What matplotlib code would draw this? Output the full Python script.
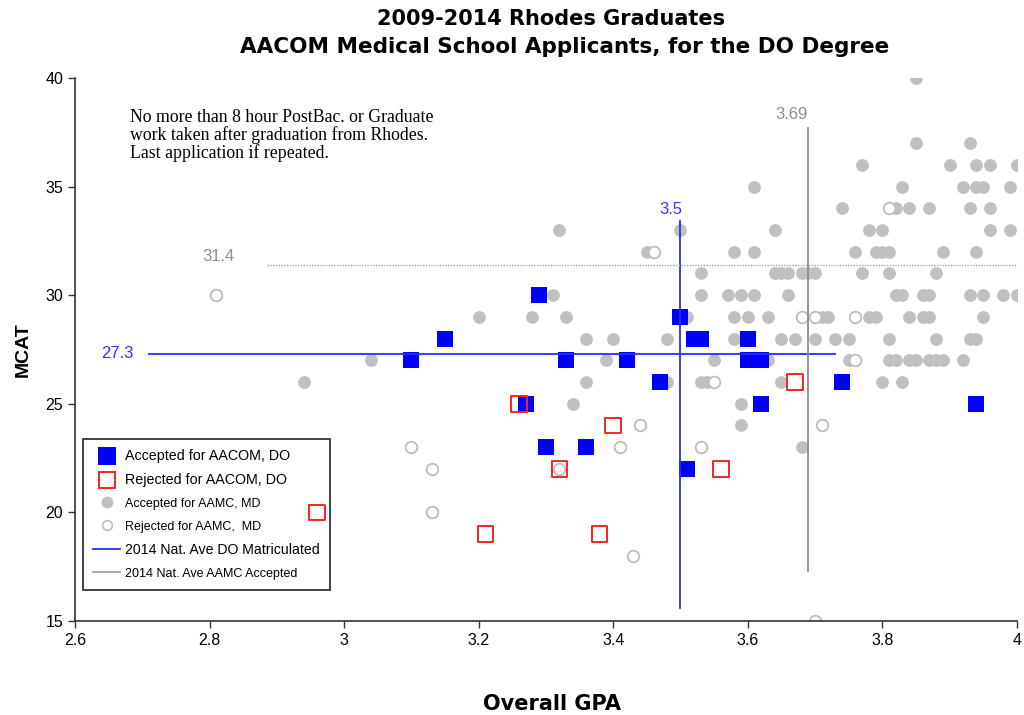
import matplotlib
matplotlib.use("Agg")
import matplotlib.pyplot as plt
from matplotlib.lines import Line2D

plt.rcParams['font.family'] = ['Liberation Sans', 'DejaVu Sans']

# Accepted for AACOM, DO (blue filled squares)
do_acc_gpa = [3.10, 3.15, 3.29, 3.27, 3.33, 3.30, 3.36, 3.42, 3.47, 3.50,
              3.52, 3.53, 3.51, 3.60, 3.60, 3.62, 3.62, 3.74, 3.94]
do_acc_mcat = [27, 28, 30, 25, 27, 23, 23, 27, 26, 29,
               28, 28, 22, 28, 27, 27, 25, 26, 25]

# Rejected for AACOM, DO (red open squares)
do_rej_gpa = [3.26, 3.40, 3.32, 3.56, 3.67, 2.96, 3.21, 3.38]
do_rej_mcat = [25, 24, 22, 22, 26, 20, 19, 19]

# Accepted for AAMC, MD (gray dots), one row per MCAT score
md_acc_gpa = [3.85,
              3.85, 3.93,
              3.77, 3.90, 3.94, 3.96, 4.00,
              3.61, 3.83, 3.92, 3.94, 3.95, 3.99,
              3.74, 3.82, 3.84, 3.87, 3.93, 3.96,
              3.32, 3.50, 3.64, 3.78, 3.80, 3.96, 3.99,
              3.45, 3.58, 3.61, 3.76, 3.79, 3.80, 3.81, 3.89, 3.94,
              3.53, 3.64, 3.65, 3.66, 3.68, 3.69, 3.70, 3.77, 3.81, 3.88,
              3.31, 3.53, 3.57, 3.59, 3.61, 3.66, 3.82, 3.83, 3.86, 3.87, 3.93, 3.95, 3.98, 4.00,
              3.20, 3.28, 3.33, 3.51, 3.58, 3.60, 3.63, 3.71, 3.72, 3.78, 3.79, 3.84, 3.86, 3.87, 3.95,
              3.36, 3.40, 3.48, 3.58, 3.65, 3.67, 3.70, 3.73, 3.75, 3.81, 3.88, 3.93, 3.94,
              3.04, 3.39, 3.55, 3.63, 3.75, 3.81, 3.82, 3.84, 3.85, 3.87, 3.88, 3.89, 3.92,
              2.94, 3.36, 3.48, 3.53, 3.54, 3.65, 3.80, 3.83,
              3.34, 3.59,
              3.59,
              3.68]
md_acc_mcat = ([40] + [37] * 2 + [36] * 5 + [35] * 6 + [34] * 6 + [33] * 7
               + [32] * 9 + [31] * 10 + [30] * 14 + [29] * 15 + [28] * 13
               + [27] * 13 + [26] * 8 + [25] * 2 + [24] + [23])

# Rejected for AAMC, MD (gray open circles)
md_rej_gpa = [2.81, 3.10, 3.13, 3.13, 3.32, 3.41, 3.44, 3.43, 3.46,
              3.53, 3.55, 3.68, 3.70, 3.76, 3.76, 3.81, 3.71, 3.70]
md_rej_mcat = [30, 23, 22, 20, 22, 23, 24, 18, 32,
               23, 26, 29, 29, 29, 27, 34, 24, 15]

# national averages
do_avg_gpa, do_avg_mcat = 3.5, 27.3
md_avg_gpa, md_avg_mcat = 3.69, 31.4

fig = plt.figure(figsize=(10.24, 7.15), dpi=100)
ax = fig.add_axes([0.0732, 0.1315, 0.9198, 0.7595])

ax.scatter(md_acc_gpa, md_acc_mcat, s=85, marker='o', color='#C0C0C0',
           linewidths=0, zorder=2)
ax.scatter(md_rej_gpa, md_rej_mcat, s=70, marker='o', facecolors='white',
           edgecolors='#BDBDBD', linewidths=1.3, zorder=2)
ax.scatter(do_acc_gpa, do_acc_mcat, s=118, marker='s', color='#0000FF',
           linewidths=0, zorder=3)
ax.scatter(do_rej_gpa, do_rej_mcat, s=125, marker='s', facecolors='none',
           edgecolors='#FF2020', linewidths=1.4, zorder=6)

# DO average lines
ax.plot([2.71, 3.73], [do_avg_mcat, do_avg_mcat], color='#2B2BFF', lw=1.3, zorder=4)
ax.plot([do_avg_gpa, do_avg_gpa], [15.6, 33.4], color='#2B2BFF', lw=1.3, zorder=4)
ax.text(2.663, do_avg_mcat, "27.3", color='#3333FF', fontsize=12,
        ha='center', va='center')
ax.text(3.485, 33.95, "3.5", color='#3333FF', fontsize=12,
        ha='center', va='center')

# MD average lines
ax.plot([2.885, 4.0], [md_avg_mcat, md_avg_mcat], color='#A8A8A8', lw=1.0,
        ls=(0, (1, 1)), zorder=4)
ax.plot([md_avg_gpa, md_avg_gpa], [17.3, 37.7], color='#8C8C8C', lw=1.3, zorder=4)
ax.text(2.814, 31.8, "31.4", color='#8C8C8C', fontsize=12,
        ha='center', va='center')
ax.text(3.665, 38.3, "3.69", color='#8C8C8C', fontsize=12,
        ha='center', va='center')

ax.text(2.682, 38.55,
        "No more than 8 hour PostBac. or Graduate\n"
        "work taken after graduation from Rhodes.\n"
        "Last application if repeated.",
        family=['Liberation Serif'], fontsize=12.8, linespacing=1.0,
        ha='left', va='top')

ax.set_xlim(2.6, 4.0)
ax.set_ylim(15, 40)
ax.set_xticks([2.6, 2.8, 3.0, 3.2, 3.4, 3.6, 3.8, 4.0])
ax.set_xticklabels(["2.6", "2.8", "3", "3.2", "3.4", "3.6", "3.8", "4"])
ax.set_yticks([15, 20, 25, 30, 35, 40])
ax.tick_params(labelsize=11.5, length=5, width=1, color='#333333')
ax.spines['top'].set_visible(False)
ax.spines['right'].set_visible(False)
for side in ('left', 'bottom'):
    ax.spines[side].set_color('#333333')
    ax.spines[side].set_linewidth(1.2)

ax.set_ylabel("MCAT", fontsize=14, fontweight='bold', labelpad=10)
fig.text(0.539, 1 - 704 / 715, "Overall GPA", family=['DejaVu Sans'],
         fontsize=15, fontweight='bold', ha='center', va='center')
fig.text(0.538, 1 - 19 / 715, "2009-2014 Rhodes Graduates", family=['DejaVu Sans'],
         fontsize=15, fontweight='bold', ha='center', va='center')
fig.text(0.551, 1 - 47 / 715, "AACOM Medical School Applicants, for the DO Degree",
         family=['DejaVu Sans'], fontsize=15.5, fontweight='bold',
         ha='center', va='center')

handles = [
    Line2D([], [], ls='none', marker='s', markersize=12.5, color='#0000FF', mew=0),
    Line2D([], [], ls='none', marker='s', markersize=11.5, markerfacecolor='white',
           markeredgecolor='#FF2020', mew=1.4),
    Line2D([], [], ls='none', marker='o', markersize=8.5, color='#C0C0C0', mew=0),
    Line2D([], [], ls='none', marker='o', markersize=7, markerfacecolor='white',
           markeredgecolor='#BDBDBD', mew=1.2),
    Line2D([], [], color='#2B2BFF', lw=1.3),
    Line2D([], [], color='#A0A0A0', lw=1.3),
]
labels = ["Accepted for AACOM, DO", "Rejected for AACOM, DO",
          "Accepted for AAMC, MD", "Rejected for AAMC,  MD",
          "2014 Nat. Ave DO Matriculated", "2014 Nat. Ave AAMC Accepted"]
leg = ax.legend(handles, labels, loc='lower left', bbox_to_anchor=(0.0085, 0.057),
                borderaxespad=0, fancybox=False, edgecolor='#222222', framealpha=1,
                handlelength=1.9, labelspacing=0.72, borderpad=0.75,
                handletextpad=0.4, fontsize=10)
leg.get_frame().set_linewidth(1.2)
leg.set_zorder(5)
for t, size in zip(leg.get_texts(), [10.3, 10.3, 9, 9, 10.2, 9]):
    t.set_fontsize(size)

fig.savefig("out.png", dpi=100)
